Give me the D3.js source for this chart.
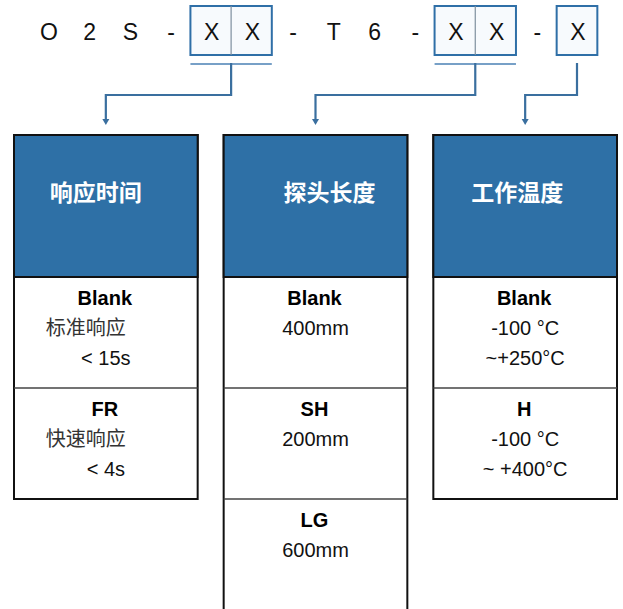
<!DOCTYPE html>
<html>
<head>
<meta charset="utf-8">
<script src="https://d3js.org/d3.v7.min.js"></script>
<style>
  body { margin:0; background:#fff; }
  svg text { font-family: "Liberation Sans", Arial, sans-serif; }
  .cjk { font-family: "Noto Sans CJK SC", sans-serif; }
</style>
</head>
<body>
<svg id="chart" width="623" height="609"></svg>
<script>
// model code, one char per slot
var codeChars = ["O","2","S","-","X","X","-","T","6","-","X","X","-","X"];
// which slots make up each field, and the column it points to
var fieldSlots = [[4,5],[10,11],[13]];
var groups = ["响应时间","探头长度","工作温度"];

// options per column : code + text lines
var responseOptions = [
  {code:"Blank", lines:["标准响应","< 15s"]},
  {code:"FR",    lines:["快速响应","< 4s"]}
];
var lengthOptions = [
  {code:"Blank", lines:["400mm"]},
  {code:"SH",    lines:["200mm"]},
  {code:"LG",    lines:["600mm"]}
];
var tempOptions = [
  {code:"Blank", lines:["-100 °C","~+250°C"]},
  {code:"H",     lines:["-100 °C","~ +400°C"]}
];
var optionLists = [responseOptions, lengthOptions, tempOptions];

var svg = d3.select("#chart");
var isCjk = function(s){ return /[\u4e00-\u9fff]/.test(s); };

// ---- top code line
var xs = d3.scalePoint().domain(d3.range(codeChars.length)).range([49,578]);
var slotW = xs.step();
var boxTop = 6, boxBot = 55, lineY = 64, elbowY = 95, arrowY = 125;

// columns
var xc = d3.scaleBand().domain(d3.range(groups.length)).range([14,617]).paddingInner(0.124);
var colTop = 135, headBot = 277, rowH = 111;
var headShift = [-10, 14, -8]; // titles are not quite centred in the original

fieldSlots.forEach(function(slots, g){
  var x0 = xs(slots[0]) - slotW/2 - 1;
  var x1 = xs(slots[slots.length-1]) + slotW/2 - 1;
  var mid = (x0 + x1)/2;
  svg.append("rect")
    .attr("x", x0).attr("y", boxTop)
    .attr("width", x1-x0).attr("height", boxBot-boxTop)
    .attr("fill", "#f7fafd").attr("stroke", "#2f6fa7").attr("stroke-width", 2);
  // inner dividers
  slots.slice(1).forEach(function(s){
    var xd = xs(s) - slotW/2 - 1;
    svg.append("line").attr("x1", xd).attr("x2", xd).attr("y1", boxTop).attr("y2", boxBot)
      .attr("stroke", "#7f8f9f").attr("stroke-width", 1.2);
  });
  if (slots.length > 1) {
    svg.append("line").attr("x1", x0).attr("x2", x1).attr("y1", lineY).attr("y2", lineY)
      .attr("stroke", "#4a80b4").attr("stroke-width", 1.5);
  }
  // elbow connector down to column
  var cx = xc(g) + xc.bandwidth()/2;
  svg.append("path")
    .attr("d", "M" + mid + "," + (lineY-1) + "V" + elbowY + "H" + cx + "V" + (arrowY-5))
    .attr("fill", "none").attr("stroke", "#3a6f9f").attr("stroke-width", 2.2);
  svg.append("path")
    .attr("d", "M" + (cx-3.5) + "," + (arrowY-6) + "L" + (cx+3.5) + "," + (arrowY-6) + "L" + cx + "," + arrowY + "Z")
    .attr("fill", "#3a6f9f");
});

svg.selectAll("text.code")
  .data(codeChars)
  .enter().append("text")
    .attr("class", "code")
    .attr("x", function(d,i){ return xs(i); })
    .attr("y", 40)
    .attr("text-anchor", "middle")
    .style("font-size", "23px")
    .attr("fill", "#111")
    .text(function(d){ return d; });

// ---- columns
groups.forEach(function(name, g){
  var x0 = xc(g), w = xc.bandwidth(), cx = x0 + w/2;
  var opts = optionLists[g];
  var last = headBot + opts.length*rowH;
  var open = g === 1; // middle column runs off the page
  var bottom = open ? 620 : last;

  svg.append("rect").attr("x", x0).attr("y", colTop).attr("width", w).attr("height", bottom-colTop)
    .attr("fill", "#fff").attr("stroke", "#111").attr("stroke-width", 2);
  svg.append("rect").attr("x", x0).attr("y", colTop).attr("width", w).attr("height", headBot-colTop)
    .attr("fill", "#2e70a6").attr("stroke", "#111").attr("stroke-width", 2);
  svg.append("text").attr("class", "cjk")
    .attr("x", cx + headShift[g]).attr("y", 193).attr("dy", "0.36em")
    .attr("text-anchor", "middle").attr("fill", "#fff")
    .style("font-size", "23px").style("font-weight", "bold")
    .text(name);

  opts.forEach(function(o, r){
    var top = headBot + r*rowH;
    if (r > 0) {
      svg.append("line").attr("x1", x0).attr("x2", x0+w).attr("y1", top).attr("y2", top)
        .attr("stroke", "#444").attr("stroke-width", 1.5);
    }
    svg.append("text")
      .attr("x", cx - 1).attr("y", top + 21).attr("dy", "0.36em")
      .attr("text-anchor", "middle").attr("fill", "#000")
      .style("font-size", "20px").style("font-weight", "bold")
      .text(o.code);
    o.lines.forEach(function(l, k){
      var cj = isCjk(l);
      svg.append("text")
        .attr("class", cj ? "cjk" : null)
        .attr("x", cj ? cx - 20 : cx).attr("y", top + 51 + k*30).attr("dy", "0.36em")
        .attr("text-anchor", "middle").attr("fill", cj ? "#333" : "#111")
        .style("font-size", "20px")
        .text(l);
    });
  });
  if (open) {
    svg.append("line").attr("x1", x0).attr("x2", x0+w).attr("y1", last).attr("y2", last)
      .attr("stroke", "#444").attr("stroke-width", 1.5);
  }
});
</script>
</body>
</html>
